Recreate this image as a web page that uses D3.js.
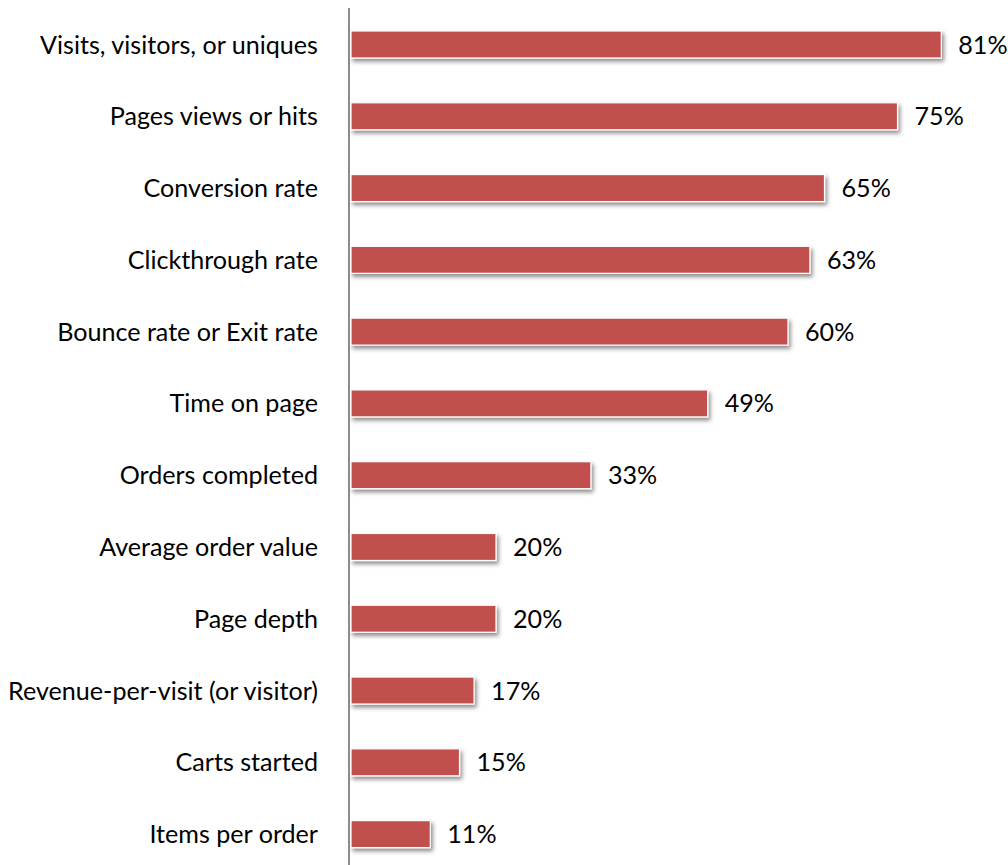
<!DOCTYPE html>
<html><head><meta charset="utf-8">
<script src="https://cdn.jsdelivr.net/npm/d3@7"></script>
<style>body{margin:0;background:#fff}svg{display:block}</style>
</head><body>
<svg id="c" width="1008" height="865"></svg>
<script>
const categories = ["Visits, visitors, or uniques","Pages views or hits","Conversion rate","Clickthrough rate","Bounce rate or Exit rate","Time on page","Orders completed","Average order value","Page depth","Revenue-per-visit (or visitor)","Carts started","Items per order"];
const values = [81,75,65,63,60,49,33,20,20,17,15,11];
const valueLabels = ["81%","75%","65%","63%","60%","49%","33%","20%","20%","17%","15%","11%"];

const svg = d3.select("#c");
const font = "Lato, 'Open Sans', sans-serif";
const x = d3.scaleLinear().domain([0,100]).range([350,1080]);
const y = d3.scaleBand().domain(categories).range([8.6,870]).paddingInner(0.624).paddingOuter(0.312);

const defs = svg.append("defs");
const f = defs.append("filter").attr("id","sh").attr("x","-5%").attr("y","-30%").attr("width","115%").attr("height","180%");
f.append("feDropShadow").attr("dx",2).attr("dy",3).attr("stdDeviation",2).attr("flood-color","#000").attr("flood-opacity",0.45);

svg.append("g").selectAll("rect").data(categories).join("rect")
  .attr("x", x(0)+1).attr("y", d=>y(d))
  .attr("width", (d,i)=>x(values[i])-x(0)-1).attr("height", y.bandwidth())
  .attr("fill","#c0504d").attr("stroke","#fff").attr("stroke-width",1.2)
  .attr("filter","url(#sh)");

svg.append("line").attr("x1",349).attr("x2",349).attr("y1",8).attr("y2",865)
  .attr("stroke","#8c8c8c").attr("stroke-width",2);

// fit font size so the longest category label spans like the reference (~310px)
const probe = svg.append("text").attr("font-family",font).attr("font-size",20).text("Revenue-per-visit (or visitor)");
const w20 = probe.node().getComputedTextLength();
probe.remove();
const fs = 20 * 310 / w20;

svg.append("g").selectAll("text").data(categories).join("text")
  .attr("x",318).attr("y",d=>y(d)+y.bandwidth()/2).attr("dy","0.36em")
  .attr("text-anchor","end").attr("font-family",font).attr("font-size",fs)
  .attr("fill","#000").text(d=>d);

svg.append("g").selectAll("text").data(categories).join("text")
  .attr("x",(d,i)=>x(values[i])+17).attr("y",d=>y(d)+y.bandwidth()/2).attr("dy","0.36em")
  .attr("font-family",font).attr("font-size",fs).attr("fill","#000")
  .text((d,i)=>valueLabels[i]);
</script>
</body></html>
